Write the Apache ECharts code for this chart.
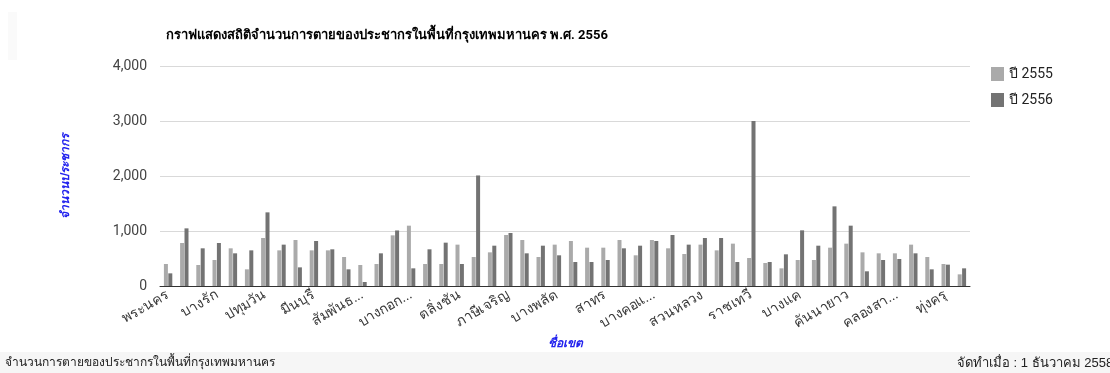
<!DOCTYPE html>
<html>
<head>
<meta charset="utf-8">
<script src="https://cdn.jsdelivr.net/npm/echarts@6/dist/echarts.min.js"></script>
<style>
html,body{margin:0;padding:0;background:#fff;}
#c{width:1110px;height:373px;}
</style>
</head>
<body>
<div id="c"></div>
<script>
const districts = ["พระนคร","ดุสิต","หนองจอก","บางรัก","บางเขน","บางกะปิ","ปทุมวัน","ป้อมปราบศัตรูพ่าย","พระโขนง","มีนบุรี",
"ลาดกระบัง","ยานนาวา","สัมพันธวงศ์","พญาไท","ธนบุรี","บางกอกใหญ่","ห้วยขวาง","คลองสาน","ตลิ่งชัน","บางกอกน้อย",
"บางขุนเทียน","ภาษีเจริญ","หนองแขม","ราษฎร์บูรณะ","บางพลัด","ดินแดง","บึงกุ่ม","สาทร","บางซื่อ","จตุจักร",
"บางคอแหลม","ประเวศ","คลองเตย","สวนหลวง","จอมทอง","ดอนเมือง","ราชเทวี","ลาดพร้าว","วัฒนา","บางแค",
"หลักสี่","สายไหม","คันนายาว","สะพานสูง","วังทองหลาง","คลองสามวา","บางนา","ทวีวัฒนา","ทุ่งครุ","บางบอน"];
const tickLabels = {"สัมพันธวงศ์":"สัมพันธ...","บางกอกใหญ่":"บางกอก...","บางคอแหลม":"บางคอแ...","คลองสามวา":"คลองสา..."};
const deaths2555 = [400,782,382,473,685,303,873,648,836,648,
648,527,382,400,921,1097,400,400,752,527,
612,927,836,527,752,818,697,697,836,558,
836,685,582,752,648,770,509,418,321,473,
473,697,770,612,594,594,752,527,400,212];
const deaths2556 = [230,1048,685,782,594,648,1339,752,339,818,
667,303,73,594,1010,321,667,788,400,2010,
733,964,594,733,558,436,436,473,685,733,
818,927,752,873,873,436,3000,436,576,1012,
733,1448,1097,267,473,491,594,303,388,321];
const yTicks = [0,1000,2000,3000,4000];

const chart = echarts.init(document.getElementById('c'));
chart.setOption({
  animation:false,
  backgroundColor:'#ffffff',
  textStyle:{fontFamily:'Roboto, "Noto Sans", "DejaVu Sans", sans-serif'},
  title:{
    text:'กราฟแสดงสถิติจำนวนการตายของประชากรในพื้นที่กรุงเทพมหานคร พ.ศ. 2556',
    left:161, top:24,
    textStyle:{fontSize:13, fontWeight:'bold', color:'#000'}
  },
  legend:{
    orient:'vertical', left:986, top:62, itemGap:12,
    itemWidth:13, itemHeight:14, icon:'rect',
    textStyle:{fontSize:14, color:'#222'},
    data:['ปี 2555','ปี 2556']
  },
  grid:{left:160, right:140, top:66, bottom:87, containLabel:false},
  xAxis:{
    type:'category', data:districts,
    name:'ชื่อเขต', nameLocation:'middle', nameGap:52,
    nameTextStyle:{color:'#2222ee', fontStyle:'italic', fontWeight:'bold', fontSize:12},
    axisTick:{show:false},
    axisLine:{lineStyle:{color:'#333', width:1}},
    axisLabel:{interval:2, rotate:30, fontSize:14, color:'#3a3a3a', margin:8,
      formatter:v=>tickLabels[v]||v}
  },
  yAxis:{
    type:'value', min:yTicks[0], max:yTicks[yTicks.length-1], interval:1000,
    name:'จำนวนประชากร', nameLocation:'middle', nameGap:88, nameRotate:90,
    nameTextStyle:{color:'#2222ee', fontStyle:'italic', fontWeight:'bold', fontSize:12},
    axisLabel:{fontSize:14, color:'#444', margin:13, formatter:v=>v.toLocaleString('en-US')},
    splitLine:{lineStyle:{color:'#d9d9d9'}},
    axisLine:{show:false}, axisTick:{show:false}
  },
  series:[
    {name:'ปี 2555', type:'bar', data:deaths2555, barWidth:4, barGap:'10%', itemStyle:{color:'#aaaaaa'}},
    {name:'ปี 2556', type:'bar', data:deaths2556, barWidth:4, itemStyle:{color:'#737373'}}
  ],
  graphic:[
    {type:'rect', left:0, top:352, shape:{width:1110, height:21}, style:{fill:'#f6f6f6'}, z:-1},
    {type:'rect', left:8, top:12, shape:{width:9, height:48}, style:{fill:'#fafafa'}, z:-1},
    {type:'text', left:5, top:357, style:{text:'จำนวนการตายของประชากรในพื้นที่กรุงเทพมหานคร', fontSize:12, fill:'#222'}},
    {type:'text', left:957, top:357, style:{text:'จัดทำเมื่อ : 1 ธันวาคม 2558', fontSize:13, fill:'#222'}}
  ]
});
</script>
</body>
</html>
